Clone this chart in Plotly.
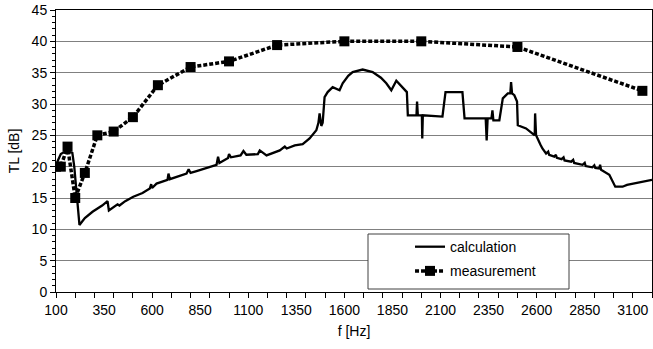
import plotly.graph_objects as go

# Measurement (1/3-octave bands)
meas_f = [100, 125, 160, 200, 250, 315, 400, 500, 630, 800, 1000, 1250, 1600, 2000, 2500, 3150]
meas_tl = [20.0, 20.0, 23.2, 15.0, 19.0, 25.0, 25.6, 27.9, 33.0, 35.9, 36.8, 39.4, 40.0, 40.0, 39.1, 32.1]

# Calculation
calc_f = [100, 110, 125, 140, 165, 185, 195, 210, 222, 250, 290, 340, 368, 375, 400, 420, 430, 460,
          502, 550, 588, 595, 600, 623, 680, 685, 692, 779, 790, 800, 831, 880, 935, 943, 950, 995,
          1000, 1010, 1060, 1075, 1090, 1150, 1160, 1195, 1264, 1290, 1300, 1342, 1383, 1419, 1454,
          1465, 1471, 1480, 1487, 1497, 1513, 1539, 1575, 1591, 1620, 1643, 1695, 1747, 1790, 1818,
          1844, 1870, 1903, 1925, 1930, 1975, 1978, 1982, 2003, 2005, 2008, 2100, 2110, 2126, 2214,
          2225, 2335, 2340, 2345, 2365, 2370, 2375, 2406, 2424, 2450, 2463, 2467, 2472, 2484, 2498,
          2502, 2545, 2580, 2590, 2592, 2597, 2620, 2630, 2649, 2660, 2665, 2692, 2700, 2705, 2730,
          2740, 2745, 2780, 2790, 2795, 2839, 2850, 2855, 2890, 2900, 2905, 2926, 2930, 2935, 2978,
          3009, 3047, 3070, 3099, 3120, 3149, 3200]
calc_tl = [20.0, 21.0, 22.0, 22.3, 22.4, 22.2, 20.0, 14.2, 10.7, 11.8, 12.8, 13.8, 14.5, 13.0, 13.6, 14.0, 13.8, 14.5,
           15.2, 15.8, 16.5, 17.2, 16.6, 17.3, 17.9, 18.9, 18.0, 18.9, 19.6, 19.0, 19.3, 19.8, 20.3, 21.6, 20.6, 21.4,
           22.0, 21.5, 21.8, 22.5, 21.9, 22.0, 22.6, 21.8, 22.6, 23.2, 22.9, 23.4, 23.6, 24.5, 25.8,
           27.0, 28.5, 26.5, 27.0, 31.1, 31.9, 32.7, 32.2, 33.3, 34.5, 35.1, 35.5, 35.1, 34.2, 33.3,
           32.2, 33.7, 32.7, 31.9, 28.2, 28.2, 30.4, 28.2, 28.2, 24.5, 28.2, 28.0, 28.0, 31.9, 31.9,
           27.7, 27.7, 24.2, 27.7, 27.7, 29.0, 27.4, 27.4, 30.9, 31.7, 31.7, 33.5, 31.7, 31.4, 30.4,
           26.6, 26.1, 25.3, 25.0, 28.5, 25.0, 23.5, 22.9, 22.1, 22.4, 21.9, 21.6, 21.9, 21.4, 21.2,
           21.5, 21.0, 20.8, 21.1, 20.6, 20.3, 20.6, 20.1, 19.9, 20.2, 19.8, 19.7, 20.3, 19.5, 18.7,
           16.8, 16.8, 17.1, 17.3, 17.4, 17.6, 17.9]

x_range = [100, 3200]
y_range = [0, 45]
x_label_vals = list(range(100, 3101, 250))

FONT = "Liberation Sans, Arial, sans-serif"

fig = go.Figure()
fig.add_trace(go.Scatter(
    x=calc_f, y=calc_tl, mode="lines", name="calculation",
    line=dict(color="black", width=2.3), legendgroup="a"))
fig.add_trace(go.Scatter(
    x=meas_f, y=meas_tl, mode="lines+markers", name="measurement",
    line=dict(color="black", width=3.5, dash="4px,2px"),
    marker=dict(symbol="square", size=10, color="black"), legendgroup="b"))
# helper axis carrying the 100 Hz tick marks
fig.add_trace(go.Scatter(x=[], y=[], xaxis="x2", showlegend=False, hoverinfo="skip"))

fig.update_layout(
    width=653, height=349,
    margin=dict(l=56, r=1, t=10, b=57),
    paper_bgcolor="white", plot_bgcolor="white",
    font=dict(family=FONT, size=14, color="black"),
    showlegend=True,
    legend=dict(x=0.594, y=0.216, xanchor="left", yanchor="top",
                bgcolor="rgba(0,0,0,0)", borderwidth=0,
                font=dict(size=14), tracegroupgap=3, traceorder="grouped"),
    xaxis=dict(range=x_range, tickmode="array", tickvals=x_label_vals,
               ticks="outside", ticklen=5, tickcolor="rgba(0,0,0,0)",
               showgrid=False, zeroline=False,
               showline=True, linecolor="black", linewidth=1, mirror=True,
               title=dict(text="f [Hz]", font=dict(size=14), standoff=9)),
    xaxis2=dict(range=x_range, overlaying="x", side="bottom", anchor="y",
                tickmode="linear", tick0=100, dtick=100,
                ticks="outside", ticklen=5, tickcolor="black",
                showticklabels=False, showgrid=False, zeroline=False, showline=False),
    yaxis=dict(range=y_range, tickmode="linear", tick0=0, dtick=5,
               ticks="outside", ticklen=5, tickcolor="black",
               minor=dict(dtick=1, ticks="outside", ticklen=3, tickcolor="black", showgrid=False),
               showgrid=True, gridcolor="#808080", gridwidth=1.3,
               zeroline=False,
               showline=True, linecolor="black", linewidth=1, mirror=True,
               title=dict(text="TL [dB]", font=dict(size=14), standoff=8)),
    shapes=[dict(type="rect", xref="paper", yref="paper",
                 x0=(368 - 56) / 596, x1=(569 - 56) / 596,
                 y0=(292 - 289) / 282, y1=(292 - 234) / 282,
                 line=dict(color="#404040", width=1), fillcolor="white", layer="above")],
)

fig.write_html("out.html")
